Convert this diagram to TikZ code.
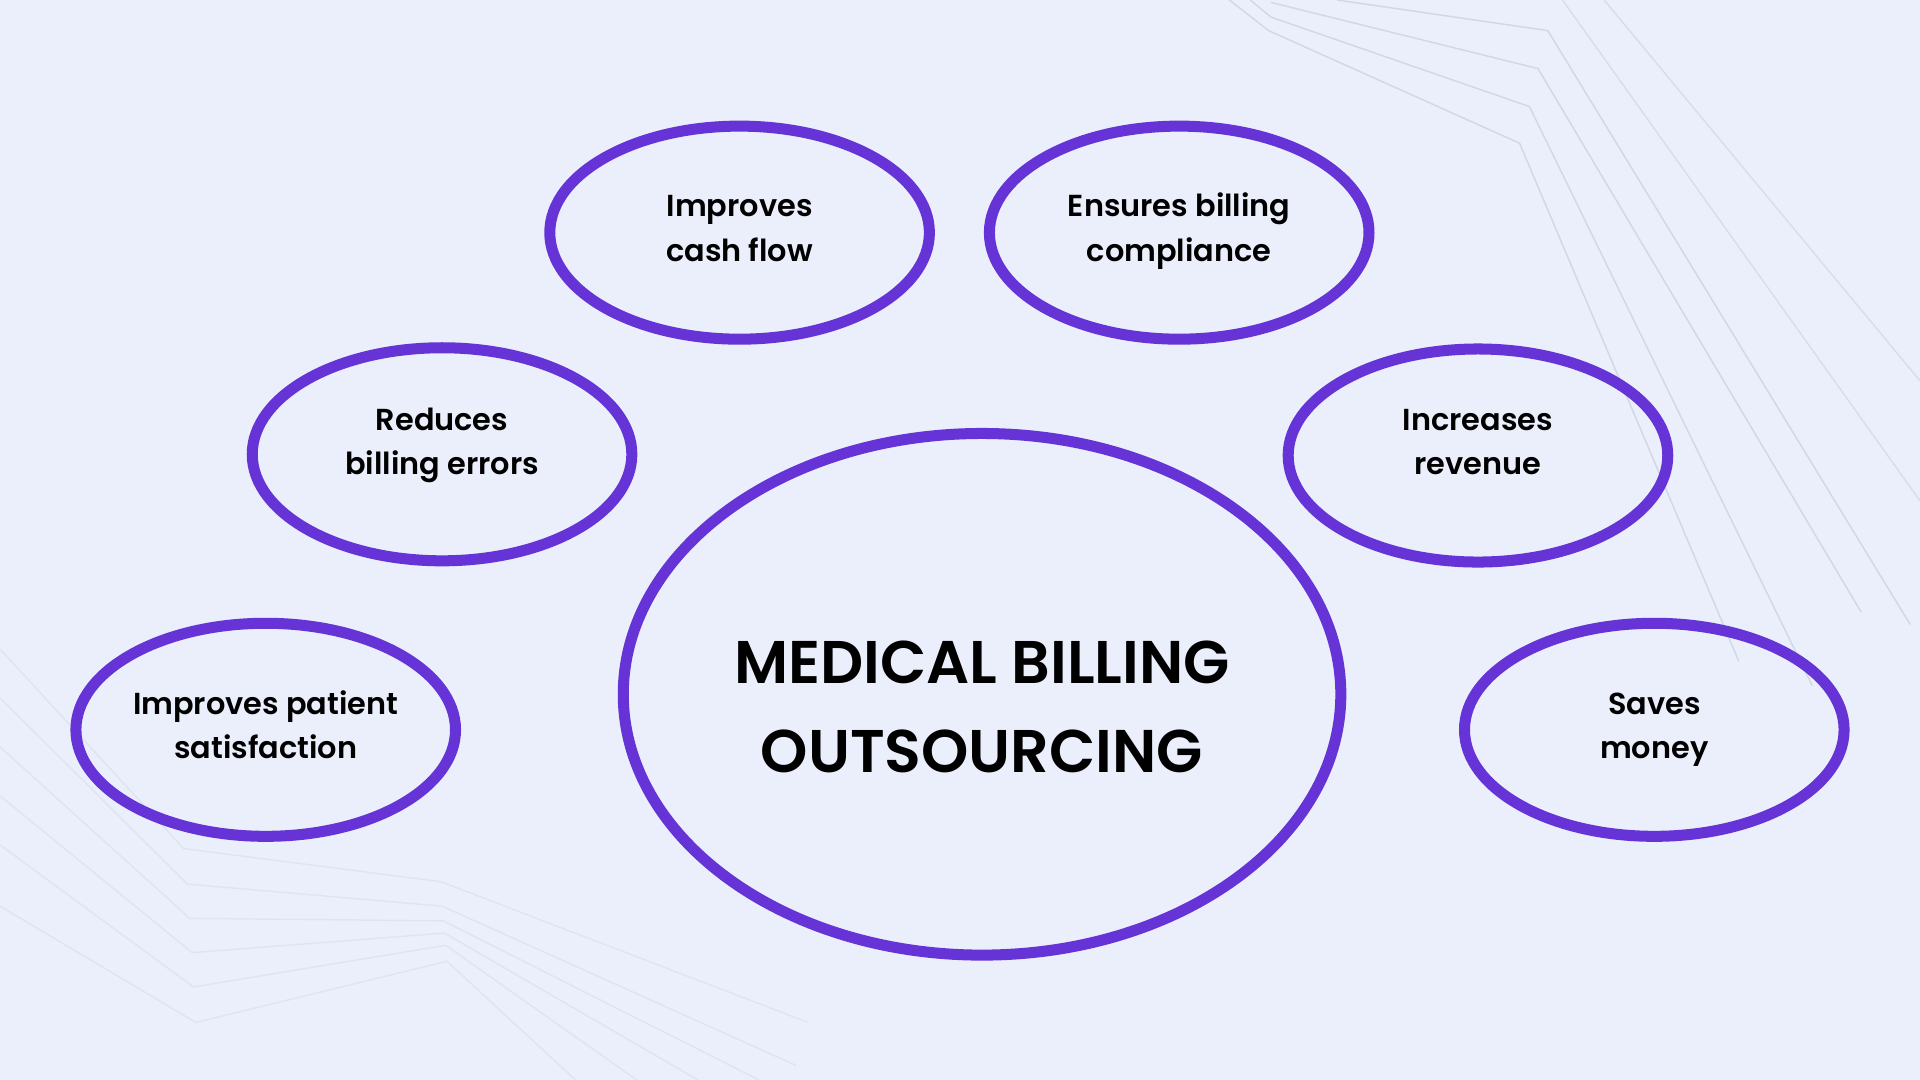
\documentclass[tikz,border=0pt]{standalone}
\usepackage{fontspec}
\setmainfont{Poppins}[BoldFont={Poppins SemiBold}]

\definecolor{bgfill}{RGB}{234,239,251}
\definecolor{ringpurple}{RGB}{102,51,214}
\definecolor{faintline}{RGB}{205,210,224}

\tikzset{every picture/.style={line width=0.75pt}}
\tikzset{
  ring/.style={draw=ringpurple, line width=4.5pt},
  benefit/.style={inner sep=0pt, align=center, font=\bfseries\fontsize{12.4}{18}\selectfont},
  hubtext/.style={inner sep=0pt, align=center, font=\bfseries\fontsize{24.6}{36.5}\selectfont},
  bgline/.style={draw=faintline, line width=0.6pt}
}

\begin{document}
\begin{tikzpicture}[x=0.5pt,y=0.5pt,yscale=-1,xscale=1]
		%Background
		\fill [bgfill] (0,0) rectangle (1568,882);
		\useasboundingbox (0,0) rectangle (1568,882);

		%Background lines, top right
		\draw [bgline, opacity=0.8] (1004,0) -- (1036,25) -- (1241,117) -- (1420,540) ;
		\draw [bgline, opacity=0.8] (1021,0) -- (1038,14) -- (1249,87) -- (1480,560) ;
		\draw [bgline, opacity=0.8] (1038,2) -- (1256,56) -- (1520,500) ;
		\draw [bgline, opacity=0.8] (1092,0) -- (1264,25) -- (1560,510) ;
		\draw [bgline, opacity=0.6] (1276,0) -- (1568,409) ;
		\draw [bgline, opacity=0.6] (1310,0) -- (1568,311) ;

		%Background lines, bottom left
		\draw [bgline, opacity=0.35] (0,530) -- (150,693) -- (360,720) -- (660,835) ;
		\draw [bgline, opacity=0.35] (0,570) -- (153,722) -- (361,740) -- (650,870) ;
		\draw [bgline, opacity=0.35] (0,610) -- (155,750) -- (362,752) -- (620,882) ;
		\draw [bgline, opacity=0.35] (0,650) -- (157,778) -- (363,762) -- (570,882) ;
		\draw [bgline, opacity=0.35] (0,690) -- (158,806) -- (364,772) -- (520,882) ;
		\draw [bgline, opacity=0.35] (0,740) -- (160,835) -- (365,785) -- (470,882) ;

		%Shape: Ellipse [hub]
		\draw [ring] (802,567) ellipse (293 and 213) ;
		%Shape: Ellipse [benefits]
		\draw [ring] (604,190) ellipse (155 and 87) ;
		\draw [ring] (963,190) ellipse (155 and 87) ;
		\draw [ring] (361,371) ellipse (155 and 87) ;
		\draw [ring] (1207,372) ellipse (155 and 87) ;
		\draw [ring] (217,596) ellipse (155 and 87) ;
		\draw [ring] (1351,596) ellipse (155 and 87) ;

		% Text Node
		\node [hubtext] (hub) at (802,580) {MEDICAL BILLING\strut\\OUTSOURCING\strut};
		% Text Node
		\node [benefit] (cashflow) at (604,188) {Improves\strut\\cash flow\strut};
		% Text Node
		\node [benefit] (compliance) at (963,188) {Ensures billing\strut\\compliance\strut};
		% Text Node
		\node [benefit] (errors) at (361,362) {Reduces\strut\\billing errors\strut};
		% Text Node
		\node [benefit] (revenue) at (1207,362) {Increases\strut\\revenue\strut};
		% Text Node
		\node [benefit] (satisfaction) at (217,594) {Improves patient\strut\\satisfaction\strut};
		% Text Node
		\node [benefit] (money) at (1351,594) {Saves\strut\\money\strut};

\end{tikzpicture}
\end{document}
